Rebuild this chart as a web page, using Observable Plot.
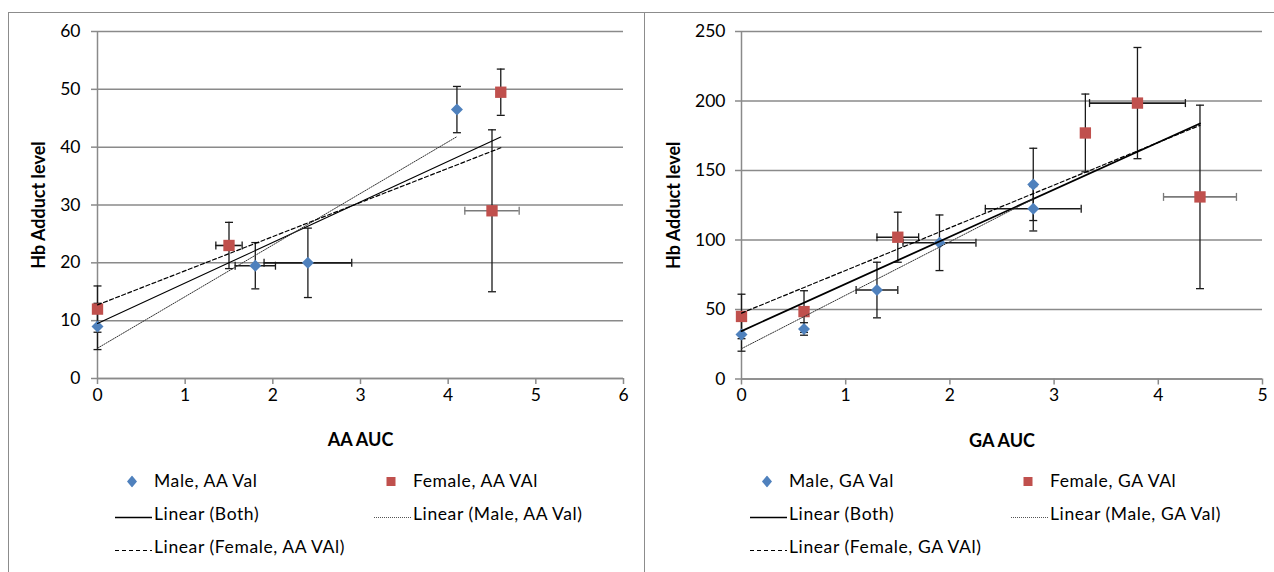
<!DOCTYPE html>
<html><head><meta charset="utf-8">
<script src="https://cdn.jsdelivr.net/npm/d3@7"></script>
<script src="https://cdn.jsdelivr.net/npm/@observablehq/plot@0.6"></script>
<style>
body{margin:0;background:#fff;font-family:Lato, sans-serif;}
#wrap{position:relative;width:1274px;height:572px;overflow:hidden;background:#fff;}
.panel{position:absolute;border:1px solid #8c8c8c;box-sizing:border-box;}
.chart{position:absolute;}
.lt{position:absolute;font-size:17.5px;letter-spacing:0.6px;color:#000;white-space:nowrap;line-height:1;transform:translateY(-50%);}
.lm{position:absolute;transform:translate(0,-50%);}
</style></head><body><div id="wrap"></div>
<script>
// ---- Data ----
const aaMaleX  = [0, 1.8, 2.4, 4.1];
const aaMaleY  = [9, 19.5, 20, 46.5];
const aaMaleEX = [0, 0.23, 0.5, 0];
const aaMaleEY = [4, 4, 6, 4];
const aaFemaleX  = [0, 1.5, 4.5, 4.6];
const aaFemaleY  = [12, 23, 29, 49.5];
const aaFemaleEX = [0, 0.15, 0.31, 0];
const aaFemaleEY = [4, 4, 14, 4];

const gaMaleX  = [0, 0.6, 1.3, 1.9, 2.8, 2.8];
const gaMaleY  = [32, 36, 64, 98, 140, 122.5];
const gaMaleEX = [0, 0, 0.2, 0.35, 0, 0.46];
const gaMaleEY = [12, 4.5, 20, 20, 26, 16];
const gaFemaleX  = [0, 0.6, 1.5, 3.3, 3.8, 4.4];
const gaFemaleY  = [45, 48.5, 102, 177, 198.5, 131];
const gaFemaleEX = [0, 0, 0.2, 0, 0.46, 0.35];
const gaFemaleEY = [16, 15, 18, 28, 40, 66];

const aaXTicks = [0, 1, 2, 3, 4, 5, 6];
const aaYTicks = [0, 10, 20, 30, 40, 50, 60];
const gaXTicks = [0, 1, 2, 3, 4, 5];
const gaYTicks = [0, 50, 100, 150, 200, 250];

const aaLabels = {x: "AA AUC", y: "Hb Adduct level", male: "Male, AA Val", female: "Female, AA VAl",
  both: "Linear (Both)", lmale: "Linear (Male, AA Val)", lfemale: "Linear (Female, AA VAl)"};
const gaLabels = {x: "GA AUC", y: "Hb Adduct level", male: "Male, GA Val", female: "Female, GA VAl",
  both: "Linear (Both)", lmale: "Linear (Male, GA Val)", lfemale: "Linear (Female, GA VAl)"};

// which horizontal error bars are drawn in grey (x value of the female point)
const aaGreyH = [4.5];
const gaGreyH = [4.4];

const BLUE = "#4F81BD", RED = "#C0504D", GRID = "#8a8a8a", BAR = "#1a1a1a";

function rows(xs, ys, exs, eys, group) {
  return xs.map((x, i) => ({x, y: ys[i], ex: exs[i], ey: eys[i], group}));
}
const hcap = {draw(ctx, size) { const r = Math.sqrt(size) / 2; ctx.moveTo(-r, 0); ctx.lineTo(r, 0); }};
const vcap = {draw(ctx, size) { const r = Math.sqrt(size) / 2; ctx.moveTo(0, -r); ctx.lineTo(0, r); }};

function chart(o) {
  const male = o.male, female = o.female, all = male.concat(female);
  const hbars = all.filter(d => d.ex > 0);
  const isGrey = d => d.group === "F" && o.greyH.includes(d.x);
  const height = 450;
  return Plot.plot({
    width: o.width, height,
    marginLeft: o.marginLeft, marginRight: o.marginRight, marginTop: o.marginTop,
    marginBottom: height - o.zeroY,
    x: {domain: o.xDomain}, y: {domain: o.yDomain},
    style: {fontFamily: "Lato, sans-serif", background: "transparent", overflow: "visible"},
    marks: [
      Plot.gridY(o.yTicks, {stroke: GRID, strokeOpacity: 1, strokeWidth: 1.5}),
      Plot.axisY(o.yTicks, {tickSize: 6, tickPadding: o.tickPad, fontSize: 17.5, stroke: GRID, strokeWidth: 1.5, fill: "#000", label: null}),
      Plot.axisX(o.xTicks, {tickSize: 6, tickPadding: 4, fontSize: 17.5, stroke: GRID, strokeWidth: 1.5, fill: "#000", label: null, tickFormat: d => String(d)}),
      Plot.ruleX([o.xDomain[0]], {stroke: GRID, strokeWidth: 1.5}),
      Plot.ruleY([o.yDomain[0]], {stroke: GRID, strokeWidth: 1.5}),
      // vertical error bars
      Plot.ruleX(all, {x: "x", y1: d => d.y - d.ey, y2: d => d.y + d.ey, stroke: BAR, strokeWidth: 1.3}),
      Plot.dot(all, {x: "x", y: d => d.y + d.ey, symbol: hcap, r: 4.5, stroke: BAR, strokeWidth: 1.3, fill: "none"}),
      Plot.dot(all, {x: "x", y: d => d.y - d.ey, symbol: hcap, r: 4.5, stroke: BAR, strokeWidth: 1.3, fill: "none"}),
      // horizontal error bars
      Plot.ruleY(hbars, {y: "y", x1: d => d.x - d.ex, x2: d => d.x + d.ex, stroke: d => isGrey(d) ? "#7a7a7a" : BAR, strokeWidth: 1.6}),
      Plot.dot(hbars, {x: d => d.x - d.ex, y: "y", symbol: vcap, r: 4.5, stroke: d => isGrey(d) ? "#7a7a7a" : BAR, strokeWidth: 1.3, fill: "none"}),
      Plot.dot(hbars, {x: d => d.x + d.ex, y: "y", symbol: vcap, r: 4.5, stroke: d => isGrey(d) ? "#7a7a7a" : BAR, strokeWidth: 1.3, fill: "none"}),
      // markers
      Plot.dot(male, {x: "x", y: "y", symbol: "diamond2", r: 5.4, fill: BLUE, stroke: "none"}),
      Plot.dot(female, {x: "x", y: "y", symbol: "square", r: 6.4, fill: RED, stroke: "none"}),
      // trend lines
      Plot.linearRegressionY(all, {x: "x", y: "y", stroke: "#000", strokeWidth: o.bothWidth, ci: 0}),
      Plot.linearRegressionY(male, {x: "x", y: "y", stroke: "#333", strokeWidth: 1, strokeDasharray: "1.2,1.3", ci: 0}),
      Plot.linearRegressionY(female, {x: "x", y: "y", stroke: "#000", strokeWidth: 1.2, strokeDasharray: "4,2.5", ci: 0}),
      // titles
      Plot.text([o.labels.y], {text: d => d, frameAnchor: "left", rotate: -90, dx: o.yTitleDx, textAnchor: "middle", lineAnchor: "middle", fontWeight: "bold", fontSize: 18, fill: "#000"}),
      Plot.text([o.labels.x], {text: d => d, frameAnchor: "bottom", dy: 62, textAnchor: "middle", lineAnchor: "middle", fontWeight: "bold", fontSize: 18, fill: "#000"})
    ]
  });
}

const wrap = document.getElementById("wrap");
function addPanel(left, top, width, height) {
  const p = document.createElement("div");
  p.className = "panel";
  Object.assign(p.style, {left: left + "px", top: top + "px", width: width + "px", height: height + "px"});
  wrap.appendChild(p);
}
addPanel(8, 12, 637, 600);
addPanel(644, 12, 700, 600);

function place(el, left, top) {
  const d = document.createElement("div");
  d.className = "chart";
  d.style.left = left + "px"; d.style.top = top + "px";
  d.appendChild(el);
  wrap.appendChild(d);
}

place(chart({
  male: rows(aaMaleX, aaMaleY, aaMaleEX, aaMaleEY, "M"),
  female: rows(aaFemaleX, aaFemaleY, aaFemaleEX, aaFemaleEY, "F"),
  xDomain: [0, 6], yDomain: [0, 60], xTicks: aaXTicks, yTicks: aaYTicks,
  width: 636, marginLeft: 89, marginRight: 21, marginTop: 19, zeroY: 366,
  labels: aaLabels, bothWidth: 1.1, greyH: aaGreyH, yTitleDx: -58, tickPad: 11
}), 8, 12);

place(chart({
  male: rows(gaMaleX, gaMaleY, gaMaleEX, gaMaleEY, "M"),
  female: rows(gaFemaleX, gaFemaleY, gaFemaleEX, gaFemaleEY, "F"),
  xDomain: [0, 5], yDomain: [0, 250], xTicks: gaXTicks, yTicks: gaYTicks,
  width: 630, marginLeft: 97, marginRight: 12, marginTop: 19, zeroY: 366.5,
  labels: gaLabels, bothWidth: 1.8, greyH: gaGreyH, yTitleDx: -67, tickPad: 10
}), 644, 12);

// ---- legends ----
function markerSvg(kind) {
  const ns = "http://www.w3.org/2000/svg";
  const s = document.createElementNS(ns, "svg");
  if (kind === "diamond" || kind === "square") {
    s.setAttribute("width", 12); s.setAttribute("height", 12);
    const e = document.createElementNS(ns, "path");
    e.setAttribute("d", kind === "diamond" ? "M6,0L11,6L6,12L1,6Z" : "M1.5,1.5H10.5V10.5H1.5Z");
    e.setAttribute("fill", kind === "diamond" ? BLUE : RED);
    s.appendChild(e);
  } else {
    s.setAttribute("width", 37); s.setAttribute("height", 6);
    const e = document.createElementNS(ns, "line");
    e.setAttribute("x1", 0); e.setAttribute("x2", 37); e.setAttribute("y1", 3); e.setAttribute("y2", 3);
    e.setAttribute("stroke", kind === "dotted" ? "#555" : "#000");
    e.setAttribute("stroke-width", kind === "solid" ? 1.6 : 1.2);
    if (kind === "dotted") e.setAttribute("stroke-dasharray", "1,1");
    if (kind === "dashed") e.setAttribute("stroke-dasharray", "4,3");
    s.appendChild(e);
  }
  return s;
}
function legendItem(markerLeft, textLeft, y, kind, label) {
  const m = document.createElement("div");
  m.className = "lm";
  m.style.left = markerLeft + "px"; m.style.top = y + "px";
  m.appendChild(markerSvg(kind));
  wrap.appendChild(m);
  const t = document.createElement("div");
  t.className = "lt";
  t.style.left = textLeft + "px"; t.style.top = y + "px";
  t.textContent = label;
  wrap.appendChild(t);
}
function legend(x0, x1, labels) {
  const r1 = 481, r2 = 514, r3 = 547;
  legendItem(x0 + 5, x0 + 33, r1, "diamond", labels.male);
  legendItem(x1 + 5, x1 + 33, r1, "square", labels.female);
  legendItem(x0 - 6, x0 + 33, r2, "solid", labels.both);
  legendItem(x1 - 6, x1 + 33, r2, "dotted", labels.lmale);
  legendItem(x0 - 6, x0 + 33, r3, "dashed", labels.lfemale);
}
legend(121, 380, aaLabels);
legend(756, 1017, gaLabels);
</script>
</body></html>
